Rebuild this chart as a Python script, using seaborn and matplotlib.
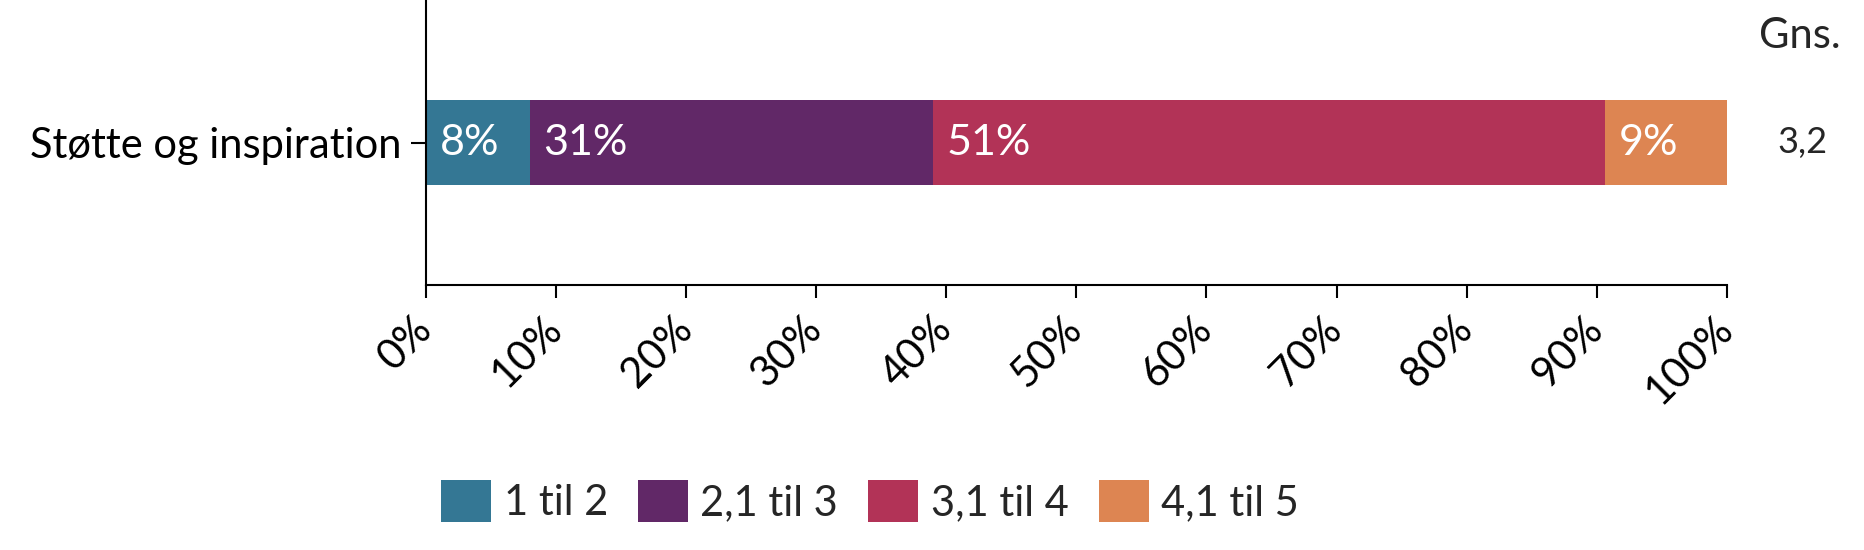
import matplotlib
matplotlib.use("Agg")
import numpy as np
import pandas as pd
import seaborn as sns
import matplotlib.pyplot as plt
from matplotlib.patches import Patch

# Data
category = "Støtte og inspiration"
groups = ["1 til 2", "2,1 til 3", "3,1 til 4", "4,1 til 5"]
shares = [8.0, 31.0, 51.6, 9.4]
colors = ["#347794", "#612867", "#B23357", "#DD8552"]
mean_label = "3,2"
x_ticks = list(range(0, 101, 10))

sns.set_theme(style="ticks")
plt.rcParams["font.family"] = ["Lato", "DejaVu Sans"]

fig = plt.figure(figsize=(18.64, 5.5), dpi=100)
ax = fig.add_axes([0.2283, 0.4818, 0.6982, 0.5182])

# stacked bar: draw cumulative totals from the largest down
cum = np.cumsum(shares)
starts = cum - np.array(shares)
for total, col in reversed(list(zip(cum, colors))):
    df = pd.DataFrame({"kategori": [category], "andel": [total]})
    sns.barplot(data=df, x="andel", y="kategori", orient="h", color=col,
                width=0.6, saturation=1, edgecolor="none", ax=ax)

for start, val in zip(starts, shares):
    ax.annotate(f"{int(val)}%", xy=(start, 0), xytext=(10, 0),
                textcoords="offset points", ha="left", va="center",
                color="white", fontsize=31)

ax.set_xlim(0, 100)
ax.set_ylim(1.0, -1.0)
ax.set_xticks(x_ticks)
ax.set_xticklabels([f"{t}%" for t in x_ticks], rotation=45, ha="right",
                   va="center", rotation_mode="anchor", fontsize=30)
ax.tick_params(axis="x", length=9, width=1.5, pad=18, colors="black")
ax.tick_params(axis="y", length=11, width=1.5, pad=6, labelsize=30,
               colors="black")
ax.set_xlabel("")
ax.set_ylabel("")
for side in ["left", "bottom"]:
    ax.spines[side].set_linewidth(1.5)
    ax.spines[side].set_color("black")
sns.despine(ax=ax)

# mean column to the right
fig.text(1800 / 1864, 1 - 36 / 550, "Gns.", ha="center", va="center",
         fontsize=30)
ax.annotate(mean_label, xy=(1.0, 0), xycoords=("axes fraction", "data"),
            xytext=(54, 0), textcoords="offset points", ha="center",
            va="center", fontsize=26)

handles = [Patch(facecolor=c, edgecolor="none", label=g)
           for g, c in zip(groups, colors)]
fig.legend(handles=handles, loc="center", bbox_to_anchor=(870 / 1864, 0.089),
           ncol=4, frameon=False, fontsize=30, handlelength=1.2,
           handleheight=1.2, handletextpad=0.3, columnspacing=0.72,
           borderaxespad=0)

fig.savefig("out.png", dpi=100)
